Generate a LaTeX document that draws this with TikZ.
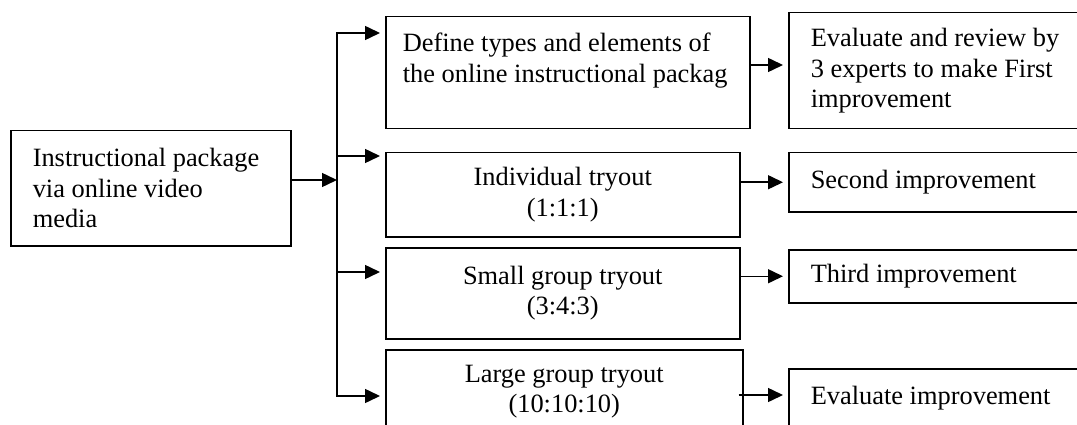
\documentclass[tikz,border=0pt]{standalone}
\usepackage{fontspec}
\setmainfont{Liberation Serif}
\usetikzlibrary{arrows.meta}
\tikzset{
  box/.style={draw, rectangle, line width=1.5pt, anchor=north west, inner ysep=0pt,
    font=\fontsize{26.4}{30.4}\selectfont},
  leftbox/.style={box, align=flush left},
  midbox/.style={box, align=flush center},
  arr/.style={line width=1.5pt, -{Triangle[length=15pt,width=14pt]}, shorten >=5pt},
}
\begin{document}
\begin{tikzpicture}[x=1pt,y=-1pt]
    \useasboundingbox (0,0) rectangle (1077,425);
    \clip (0,0) rectangle (1077,425);
    % boxes
    \node[leftbox, inner xsep=22pt, text width=236pt, minimum height=115pt] (instr) at (10,130)
      {Instructional package\\via online video\\media};
    \node[leftbox, inner xsep=17pt, text width=330pt, minimum height=112pt] (define) at (385,16)
      {Define types and elements of\\the online instructional packag\\~};
    \node[midbox, inner xsep=22pt, text width=310pt, minimum height=84pt] (indiv) at (385,152)
      {Individual tryout\\(1:1:1)};
    \node[midbox, inner xsep=22pt, text width=310pt, minimum height=91pt] (small) at (385,247)
      {Small group tryout\\(3:4:3)};
    \node[midbox, inner xsep=22pt, text width=313pt, minimum height=84pt] (large) at (385,349)
      {Large group tryout\\(10:10:10)};
    \node[leftbox, inner xsep=22pt, text width=280pt, minimum height=116pt] (review) at (788,12)
      {Evaluate and review by\\3 experts to make First\\improvement};
    \node[leftbox, inner xsep=22pt, text width=280pt, minimum height=59pt] (second) at (788,152)
      {Second improvement};
    \node[leftbox, inner xsep=22pt, text width=280pt, minimum height=53pt] (third) at (788,249)
      {Third improvement};
    \node[leftbox, inner xsep=22pt, text width=280pt, minimum height=58pt] (evalimp) at (788,368)
      {Evaluate improvement};
    % bus and branches
    \coordinate (hub) at (337,180);
    \coordinate (bustop) at (337,33);
    \coordinate (bustwo) at (337,156);
    \coordinate (busthree) at (337,272);
    \coordinate (busbot) at (337,396);
    \coordinate (rowone) at (0,65);
    \coordinate (rowfour) at (0,395);
    \draw[arr, shorten >=0pt] (instr.east |- hub) -- (hub);
    \draw[line width=1.5pt, line cap=rect] (bustop) -- (busbot);
    \foreach \c/\n in {bustop/define, bustwo/indiv, busthree/small, busbot/large}
      \draw[arr] (\c) -- (\c -| \n.west);
    % improvements
    \draw[arr] (define.east |- rowone) -- (review.west |- rowone);
    \draw[arr] (indiv.east |- second.west) -- (second.west);
    \draw[arr] (small.east |- third.west) -- (third.west);
    \draw[arr] ([xshift=-5pt]large.east |- rowfour) -- (evalimp.west |- rowfour);
\end{tikzpicture}
\end{document}
